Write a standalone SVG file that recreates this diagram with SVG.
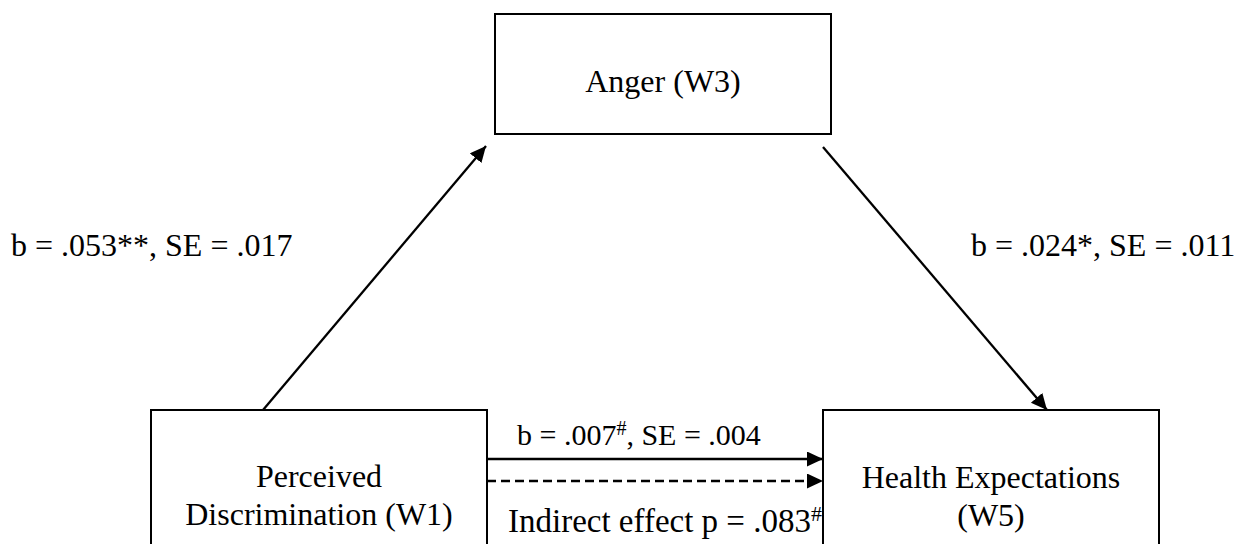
<svg xmlns="http://www.w3.org/2000/svg" width="1240" height="544" viewBox="0 0 1240 544">
<style>
.box{fill:#fff;stroke:#000;stroke-width:2}
.t{font-family:"Liberation Serif","Times New Roman",serif;font-size:32px;fill:#000}
.c{text-anchor:middle}
.ln{stroke:#000;stroke-width:2.3;fill:none}
.dash{stroke-dasharray:9,5}
.sup{font-size:20px}
</style>
<defs>
<marker id="ah" markerUnits="userSpaceOnUse" markerWidth="17" markerHeight="16" refX="16" refY="7.5" orient="auto">
<path d="M0,0 L16,7.5 L0,15 z" fill="#000"/>
</marker>
</defs>
<rect width="1240" height="544" fill="#fff"/>
<g id="connectors">
<line class="ln" x1="263" y1="410" x2="486" y2="146" marker-end="url(#ah)"/>
<line class="ln" x1="823" y1="147" x2="1047" y2="410" marker-end="url(#ah)"/>
<line class="ln" x1="487" y1="459" x2="823" y2="459" marker-end="url(#ah)"/>
<line class="ln dash" x1="487" y1="481" x2="823" y2="481" marker-end="url(#ah)"/>
</g>
<g id="anger">
<rect class="box" x="495" y="14" width="336" height="120"/>
<text class="t c" x="663" y="92">Anger (W3)</text>
</g>
<g id="perceived">
<rect class="box" x="151" y="410" width="336" height="160"/>
<text class="t c" x="319" y="487">Perceived</text>
<text class="t c" x="319" y="525">Discrimination (W1)</text>
</g>
<g id="health">
<rect class="box" x="823" y="410" width="336" height="160"/>
<text class="t c" x="991" y="488">Health Expectations</text>
<text class="t c" x="991" y="526">(W5)</text>
</g>
<g id="labels">
<text class="t" x="11" y="256">b = .053**, SE = .017</text>
<text class="t" x="971" y="256">b = .024*, SE = .011</text>
<text class="t" x="517" y="445" style="font-size:30px">b = .007<tspan class="sup" dy="-10">#</tspan><tspan dy="10">, SE = .004</tspan></text>
<text class="t" x="508" y="532" style="font-size:33px">Indirect effect p = .083<tspan style="font-size:22px" dy="-11">#</tspan></text>
</g>
</svg>
